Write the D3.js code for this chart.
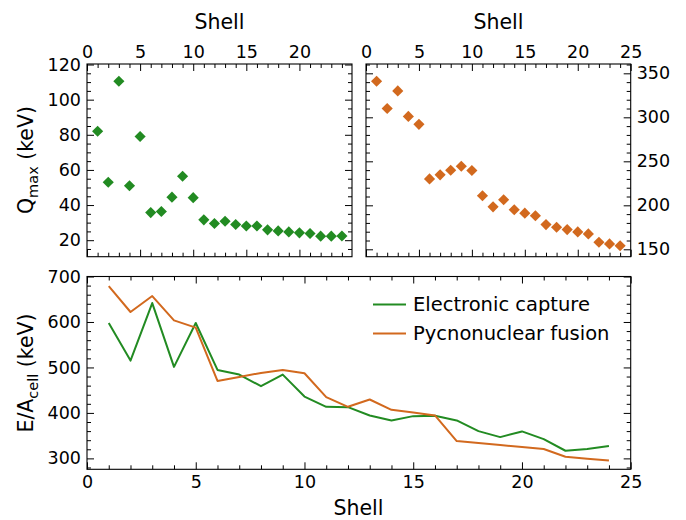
<!DOCTYPE html>
<html><head><meta charset="utf-8">
<script src="https://cdn.jsdelivr.net/npm/d3@7"></script>
<style>body{margin:0;background:#fff}svg{display:block}text{font-family:"DejaVu Sans",sans-serif;fill:#000}</style>
</head><body>
<svg id="c" width="686" height="520"></svg>
<script>
const shells = d3.range(1, 25);
const qmaxEC = [82, 53, 110.5, 51, 79, 35.7, 36.3, 44.5, 56.4, 44.2, 31.6, 29.5, 30.8, 28.9, 28.1, 28.1, 25.9, 25.3, 24.7, 24.2, 23.8, 22.3, 22.3, 22.4];
const qmaxPF = [341, 310, 330, 301, 292, 230, 234.6, 239.8, 244.4, 239.5, 210.9, 198.3, 206.3, 194.9, 191.1, 188.1, 178.1, 175.1, 172.4, 169.8, 167.5, 158, 156.1, 154.1];
const eaEC = [597.7, 515, 641.6, 501.2, 597.7, 494.6, 484.3, 458.7, 484.3, 436, 413.4, 412.7, 394.4, 383.4, 392.9, 393.6, 383.4, 360, 346.8, 359.3, 342.4, 316.8, 320.5, 327.1];
const eaPF = [679, 621.9, 657, 603.6, 587.5, 470.4, 479.2, 488, 494.6, 487.3, 434.6, 413.4, 429.5, 406.8, 401, 394.4, 338, 333.6, 329.3, 324.9, 320.5, 303.7, 299.3, 295.6];
const seriesNames = ["Electronic capture", "Pycnonuclear fusion"];
const colors = ["#228B22", "#D2691E"];
const xTicksTL = [0, 5, 10, 15, 20];
const xTicks = [0, 5, 10, 15, 20, 25];
const yTicksTL = [20, 40, 60, 80, 100, 120];
const yTicksTR = [150, 200, 250, 300, 350];
const yTicksB = [300, 400, 500, 600, 700];

const svg = d3.select("#c");
const TICK_FS = 17.5, LAB_FS = 20.5;

function panel(x0, x1, y0, y1, xdom, ydom, opts) {
  const x = d3.scaleLinear().domain(xdom).range([x0, x1]);
  const y = d3.scaleLinear().domain(ydom).range([y1, y0]);
  const g = svg.append("g");
  const mk = (axisFn, scale, vals, minors, labels, tx, ty) => {
    const maj = axisFn(scale).tickValues(vals).tickSizeInner(-7).tickSizeOuter(0).tickPadding(6)
      .tickFormat(labels ? d3.format("d") : () => "");
    const a = g.append("g").attr("transform", `translate(${tx},${ty})`).call(maj);
    a.select(".domain").remove();
    a.selectAll("text").style("font-size", TICK_FS + "px").attr("fill", "#000");
    a.selectAll("line").attr("stroke", "#000").attr("stroke-width", 1);
    const mn = axisFn(scale).tickValues(minors.filter(v => !vals.includes(v))).tickSizeInner(-4).tickSizeOuter(0).tickFormat(() => "");
    const b = g.append("g").attr("transform", `translate(${tx},${ty})`).call(mn);
    b.select(".domain").remove();
    b.selectAll("line").attr("stroke", "#000").attr("stroke-width", 1);
  };
  mk(d3.axisBottom, x, opts.xt, opts.xm, opts.xb, 0, y1);
  mk(d3.axisTop, x, opts.xt, opts.xm, opts.xtop, 0, y0);
  mk(d3.axisLeft, y, opts.yt, opts.ym, opts.yl, x0, 0);
  mk(d3.axisRight, y, opts.yt, opts.ym, opts.yr, x1, 0);
  g.append("rect").attr("x", x0).attr("y", y0).attr("width", x1 - x0).attr("height", y1 - y0)
    .attr("fill", "none").attr("stroke", "#000").attr("stroke-width", 1.1);
  return {x, y, g};
}

const diamond = d3.symbol().type(d3.symbolSquare).size(62);

// Top-left
const p1 = panel(87, 352, 64, 256.7, [0, 24.95], [10.6, 120.3],
  {xt: xTicksTL, xm: d3.range(0, 25), yt: yTicksTL, ym: d3.range(15, 121, 5), xb: false, xtop: true, yl: true, yr: false});
p1.g.selectAll(".pt").data(shells).join("path")
  .attr("d", diamond).attr("fill", colors[0])
  .attr("transform", (d, i) => `translate(${p1.x(d)},${p1.y(qmaxEC[i])}) rotate(45)`);

// Top-right
const p2 = panel(366, 630.7, 64, 256.7, [0, 25], [141.6, 360.6],
  {xt: xTicks, xm: d3.range(0, 26), yt: yTicksTR, ym: d3.range(150, 361, 10), xb: false, xtop: true, yl: false, yr: true});
p2.g.selectAll(".pt").data(shells).join("path")
  .attr("d", diamond).attr("fill", colors[1])
  .attr("transform", (d, i) => `translate(${p2.x(d)},${p2.y(qmaxPF[i])}) rotate(45)`);

// Bottom
const p3 = panel(87, 630.7, 276.5, 469.3, [0, 25], [276, 700],
  {xt: xTicks, xm: d3.range(0, 26), yt: yTicksB, ym: d3.range(280, 701, 20), xb: true, xtop: false, yl: true, yr: false});
const line = d3.line().x(d => p3.x(d[0])).y(d => p3.y(d[1]));
[eaEC, eaPF].forEach((arr, k) => {
  p3.g.append("path").datum(shells.map((s, i) => [s, arr[i]])).attr("d", line)
    .attr("fill", "none").attr("stroke", colors[k]).attr("stroke-width", 2).attr("stroke-linejoin", "round");
});

// Legend
seriesNames.forEach((n, k) => {
  const ly = 304.5 + k * 29;
  svg.append("line").attr("x1", 373).attr("x2", 406).attr("y1", ly).attr("y2", ly)
    .attr("stroke", colors[k]).attr("stroke-width", 2);
  svg.append("text").attr("x", 413).attr("y", ly).attr("dy", "0.35em").style("font-size", "19.5px").text(n);
});

// Axis labels
svg.append("text").attr("x", 219.5).attr("y", 29).attr("text-anchor", "middle").style("font-size", LAB_FS + "px").text("Shell");
svg.append("text").attr("x", 498.5).attr("y", 29).attr("text-anchor", "middle").style("font-size", LAB_FS + "px").text("Shell");
svg.append("text").attr("x", 358.5).attr("y", 515).attr("text-anchor", "middle").style("font-size", LAB_FS + "px").text("Shell");

const ql = svg.append("text").attr("transform", "translate(33,160) rotate(-90)").attr("text-anchor", "middle").style("font-size", LAB_FS + "px");
ql.append("tspan").text("Q");
ql.append("tspan").attr("dy", 5).style("font-size", "14.5px").text("max");
ql.append("tspan").attr("dy", -5).text(" (keV)");

const el = svg.append("text").attr("transform", "translate(33,373) rotate(-90)").attr("text-anchor", "middle").style("font-size", LAB_FS + "px");
el.append("tspan").text("E/A");
el.append("tspan").attr("dy", 5).style("font-size", "14.5px").text("cell");
el.append("tspan").attr("dy", -5).text(" (keV)");
</script>
</body></html>
